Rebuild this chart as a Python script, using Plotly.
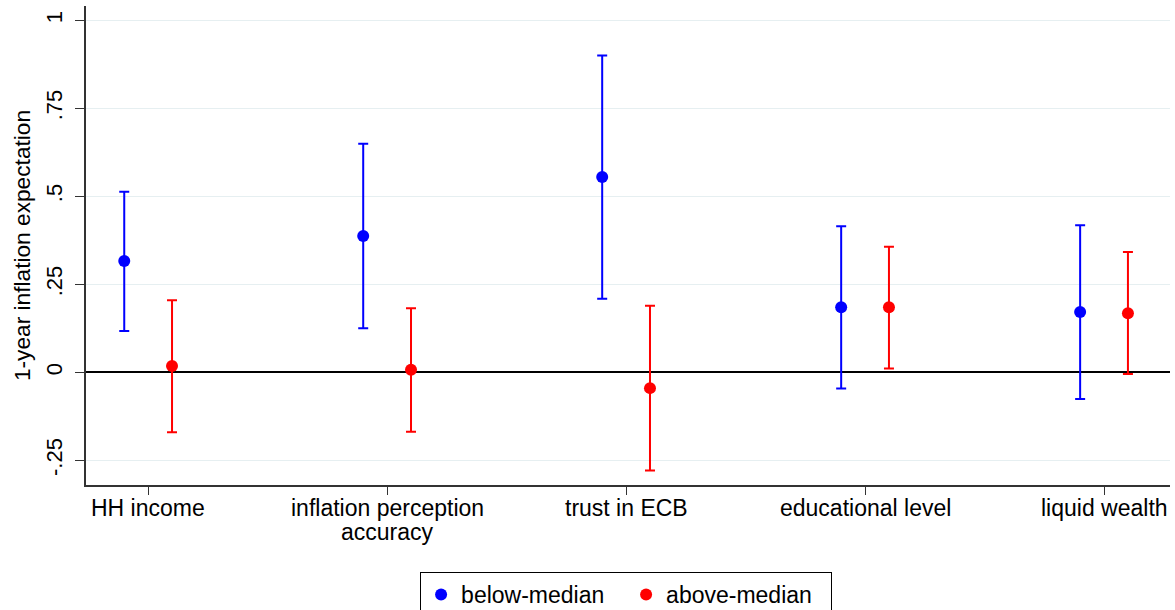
import plotly.graph_objects as go

# Categories (line breaks mark the wrapped axis labels)
categories = ["HH income", "inflation perception\naccuracy", "trust in ECB",
              "educational level", "liquid wealth"]

# Point estimates and 95% confidence bounds
below_est = [0.316, 0.387, 0.555, 0.185, 0.171]
below_lo = [0.117, 0.125, 0.209, -0.046, -0.076]
below_hi = [0.513, 0.649, 0.900, 0.415, 0.418]

above_est = [0.018, 0.007, -0.045, 0.185, 0.168]
above_lo = [-0.170, -0.169, -0.279, 0.011, -0.005]
above_hi = [0.205, 0.182, 0.189, 0.357, 0.342]

y_ticks = [-0.25, 0, 0.25, 0.5, 0.75, 1]
y_ticktext = ["-.25", "0", ".25", ".5", ".75", "1"]

FONT = "Liberation Sans, Arial, sans-serif"
offset = 0.1
idx = list(range(len(categories)))


def series(name, est, lo, hi, color, shift):
    return go.Scatter(
        x=[i + shift for i in idx],
        y=est,
        mode="markers",
        name=name,
        marker=dict(color=color, size=12),
        error_y=dict(
            type="data",
            symmetric=False,
            array=[h - e for h, e in zip(hi, est)],
            arrayminus=[e - l for e, l in zip(est, lo)],
            color=color,
            thickness=2,
            width=5,
        ),
    )


fig = go.Figure()
fig.add_trace(series("below-median", below_est, below_lo, below_hi, "#0000FF", -offset))
fig.add_trace(series("above-median", above_est, above_lo, above_hi, "#FF0000", offset))

# Category labels under the axis, one annotation per text line
for i, label in enumerate(categories):
    for j, line in enumerate(label.split("\n")):
        fig.add_annotation(
            x=i, y=0, xref="x", yref="paper",
            text=line, showarrow=False,
            xanchor="center", yanchor="top",
            yshift=-8 - 23.5 * j,
            font=dict(family=FONT, size=23, color="black"),
        )

fig.update_layout(
    width=1175, height=610,
    margin=dict(l=86, r=5, t=6, b=125, autoexpand=False),
    paper_bgcolor="white", plot_bgcolor="white",
    font=dict(family=FONT, size=22, color="black"),
    showlegend=True,
    legend=dict(
        orientation="h",
        x=0.3082, xanchor="left",
        y=-0.1816, yanchor="top",
        bordercolor="black", borderwidth=1,
        font=dict(family=FONT, size=23, color="black"),
        itemwidth=30,
        entrywidth=160, entrywidthmode="pixels",
    ),
)

fig.update_xaxes(
    range=[-0.26, 4.276],
    tickvals=idx, ticktext=[""] * len(idx),
    ticks="outside", ticklen=8, tickcolor="#333333", tickwidth=1,
    showline=True, linecolor="#333333", linewidth=1.5,
    showgrid=False, zeroline=False,
)

fig.update_yaxes(
    range=[-0.3202, 1.0406],
    tickvals=y_ticks, ticktext=y_ticktext, tickangle=-90,
    ticks="outside", ticklen=9, tickcolor="#333333", tickwidth=1,
    ticklabelstandoff=4,
    tickfont=dict(family=FONT, size=22, color="black"),
    showline=True, linecolor="#333333", linewidth=1.5,
    showgrid=True, gridcolor="#E6EFF1", gridwidth=1.2,
    zeroline=True, zerolinecolor="black", zerolinewidth=1.8,
    title=dict(text="1-year inflation expectation",
               font=dict(family=FONT, size=22.7, color="black"), standoff=6),
)

fig.write_html("out.html")
